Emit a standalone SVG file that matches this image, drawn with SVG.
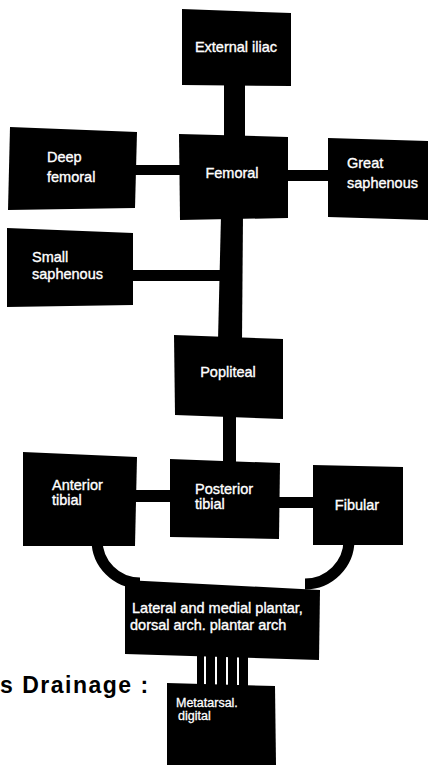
<svg xmlns="http://www.w3.org/2000/svg" width="438" height="765" viewBox="0 0 438 765">
  <style>
    .box { fill: #000; }
    .bar { fill: #000; }
    .arc { fill: none; stroke: #000; stroke-width: 11; }
    .lbl { fill: #fff; stroke: #fff; stroke-width: 0.35; font-family: "Liberation Sans", Arial, sans-serif; font-size: 14.5px; }
    .lbl-sm { fill: #fff; stroke: #fff; stroke-width: 0.3; font-family: "Liberation Sans", Arial, sans-serif; font-size: 12.5px; }
    .title { fill: #000; font-family: "Liberation Sans", Arial, sans-serif; font-size: 23px; font-weight: bold; letter-spacing: 1.5px; }
  </style>
  <rect width="438" height="765" fill="#fff"/>

  <!-- connectors -->
  <g id="connectors">
    <rect class="bar" x="224" y="80" width="21" height="58"/>
    <rect class="bar" x="133" y="165" width="50" height="10"/>
    <rect class="bar" x="284" y="170" width="48" height="11"/>
    <polygon class="bar" points="221,215 243,215 242,340 218,340"/>
    <rect class="bar" x="129" y="270" width="93" height="11"/>
    <rect class="bar" x="223" y="415" width="13" height="47"/>
    <rect class="bar" x="132" y="490" width="42" height="12"/>
    <rect class="bar" x="275" y="497" width="42" height="11"/>
    <path class="arc" d="M97,540 A43,43 0 0 0 140,583"/>
    <path class="arc" d="M349,540 A44,44 0 0 1 305,584"/>
    <rect class="bar" x="197" y="652" width="7" height="34"/>
    <rect class="bar" x="206" y="652" width="9" height="34"/>
    <rect class="bar" x="217" y="652" width="9" height="34"/>
    <rect class="bar" x="228" y="652" width="9" height="34"/>
    <rect class="bar" x="239" y="652" width="9" height="34"/>
  </g>

  <g id="external-iliac">
    <polygon class="box" points="182,9 291,13 291,86 182,85"/>
    <text class="lbl" x="236" y="52" text-anchor="middle">External iliac</text>
  </g>

  <g id="deep-femoral">
    <polygon class="box" points="10,127 137,132 135,208 8,210"/>
    <text class="lbl" x="47" y="162">Deep</text>
    <text class="lbl" x="47" y="182">femoral</text>
  </g>

  <g id="femoral">
    <polygon class="box" points="179,134 288,137 288,218 180,220"/>
    <text class="lbl" x="232" y="178" text-anchor="middle">Femoral</text>
  </g>

  <g id="great-saphenous">
    <polygon class="box" points="328,138 428,141 428,220 328,217"/>
    <text class="lbl" x="347" y="168">Great</text>
    <text class="lbl" x="347" y="188">saphenous</text>
  </g>

  <g id="small-saphenous">
    <polygon class="box" points="7,228 133,233 133,305 7,307"/>
    <text class="lbl" x="32" y="262">Small</text>
    <text class="lbl" x="32" y="279">saphenous</text>
  </g>

  <g id="popliteal">
    <polygon class="box" points="174,335 283,339 283,419 175,415"/>
    <text class="lbl" x="228" y="377" text-anchor="middle">Popliteal</text>
  </g>

  <g id="anterior-tibial">
    <polygon class="box" points="23,452 137,457 135,546 23,546"/>
    <text class="lbl" x="52" y="490">Anterior</text>
    <text class="lbl" x="52" y="505">tibial</text>
  </g>

  <g id="posterior-tibial">
    <polygon class="box" points="170,459 280,463 279,539 170,537"/>
    <text class="lbl" x="195" y="494">Posterior</text>
    <text class="lbl" x="195" y="509">tibial</text>
  </g>

  <g id="fibular">
    <polygon class="box" points="313,465 403,467 403,545 313,545"/>
    <text class="lbl" x="357" y="510" text-anchor="middle">Fibular</text>
  </g>

  <g id="plantar">
    <polygon class="box" points="125,580 320,590 319,660 125,654"/>
    <text class="lbl" x="132" y="613">Lateral and medial plantar,</text>
    <text class="lbl" x="130" y="630">dorsal arch. plantar arch</text>
  </g>

  <g id="metatarsal">
    <polygon class="box" points="167,683 275,686 276,765 167,765"/>
    <text class="lbl-sm" x="176" y="707">Metatarsal.</text>
    <text class="lbl-sm" x="178" y="720">digital</text>
  </g>

  <text class="title" x="0" y="693">s Drainage :</text>
</svg>
